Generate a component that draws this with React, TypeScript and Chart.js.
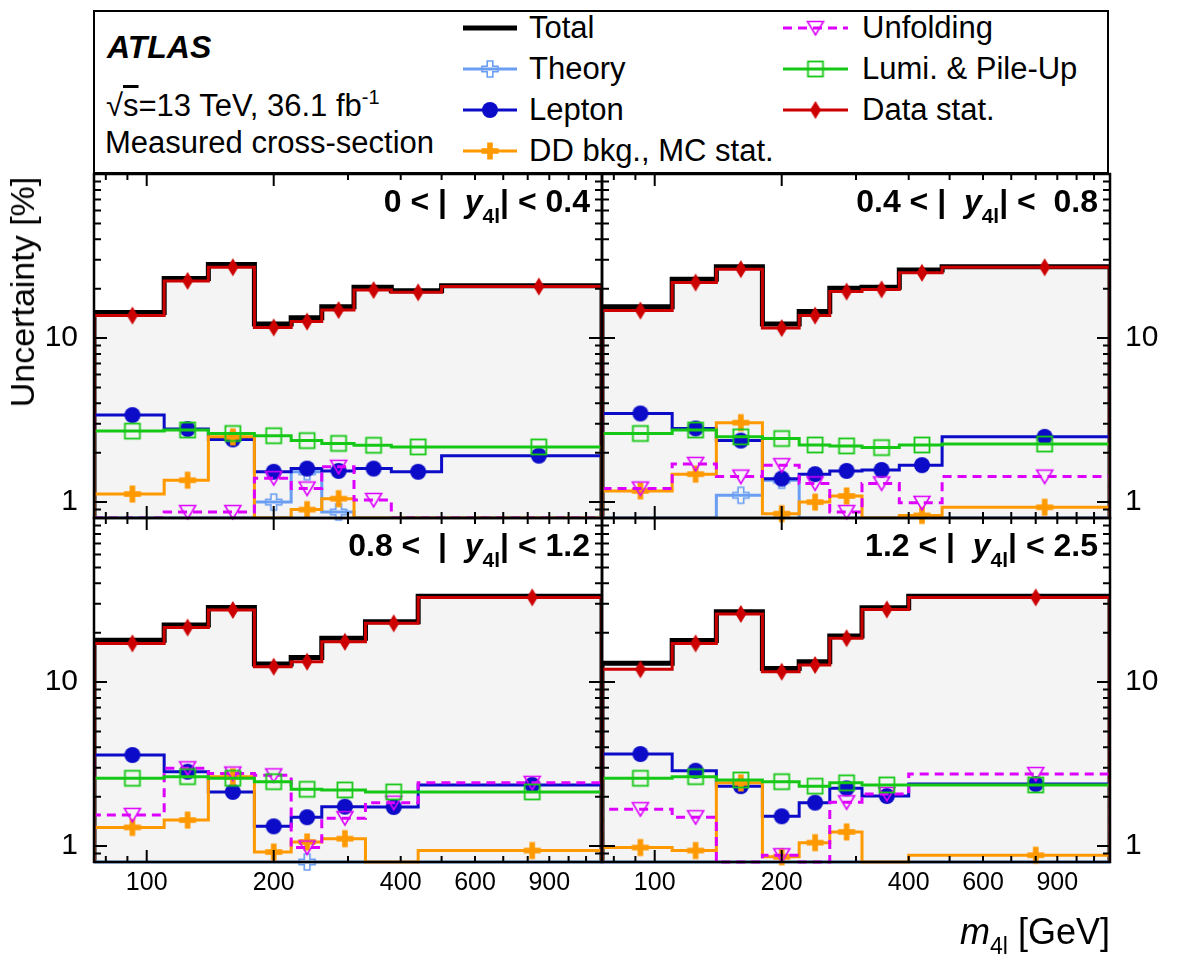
import React, { useEffect, useRef } from 'react';
import { Chart, registerables } from 'chart.js';

Chart.register(...registerables);

const PAGE_W = 1182;
const PAGE_H = 971;
const FONT = "'Liberation Sans', Arial, Helvetica, sans-serif";
const FILL = '#f4f4f4';

// axis ranges and ticks
const X_MIN = 75;
const X_MAX = 1200;
const Y_MIN = 0.8;
const Y_MAX = 100;
const X_TICK_LABELS = [100, 200, 400, 600, 900];
const Y_TICK_LABELS = [1, 10];
const X_MAJOR = [100, 200];
const X_MINOR = [80, 90, 300, 400, 500, 600, 700, 800, 900, 1000, 1100];
const Y_MAJOR = [1, 10];
const Y_MINOR = [0.9, 2, 3, 4, 5, 6, 7, 8, 9, 20, 30, 40, 50, 60, 70, 80, 90];

// ---- 0 < |y4l| < 0.4 ----
const edgesA = [75, 110, 140, 180, 220, 260, 310, 380, 500, 1200];
const totalA = [14.3, 23.1, 28.1, 12.2, 13.3, 15.5, 20.4, 19.4, 20.8];
const theoryA = [0.5, 0.5, 0.5, 1.0, 1.53, 0.87, 0.5, 0.5, 0.5];
const leptonA = [3.39, 2.79, 2.41, 1.53, 1.6, 1.55, 1.6, 1.53, 1.92];
const ddA = [1.12, 1.36, 2.5, 0.5, 0.9, 1.05, 0.5, 0.5, 0.5];
const unfoldA = [0.5, 0.87, 0.87, 1.4, 1.21, 1.64, 1.03, 0.5, 0.5];
const lumiA = [2.71, 2.75, 2.62, 2.54, 2.37, 2.28, 2.22, 2.17, 2.17];
const dataA = [13.7, 22.3, 27.0, 11.6, 12.6, 14.8, 19.6, 19.0, 20.6];

// ---- 0.4 < |y4l| < 0.8 ----
const edgesB = [75, 110, 140, 180, 220, 260, 310, 380, 480, 1200];
const totalB = [15.5, 22.8, 27.2, 12.2, 14.5, 20.1, 20.4, 26.0, 27.2];
const theoryB = [0.5, 0.5, 1.1, 1.36, 0.5, 0.5, 0.5, 0.5, 0.5];
const leptonB = [3.47, 2.81, 2.37, 1.39, 1.48, 1.55, 1.57, 1.68, 2.5];
const ddB = [1.17, 1.48, 3.05, 0.85, 1.0, 1.09, 0.5, 0.83, 0.93];
const unfoldB = [1.21, 1.71, 1.43, 1.68, 1.3, 0.87, 1.3, 0.99, 1.43];
const lumiB = [2.62, 2.75, 2.5, 2.44, 2.23, 2.2, 2.15, 2.23, 2.26];
const dataB = [14.7, 21.8, 26.3, 11.5, 13.7, 19.2, 19.8, 25.0, 27.0];

// ---- 0.8 < |y4l| < 1.2 ----
const edgesC = [75, 110, 140, 180, 220, 260, 330, 440, 1200];
const totalC = [18.0, 22.3, 28.5, 12.9, 14.1, 18.5, 23.3, 33.4];
const theoryC = [0.5, 0.5, 0.5, 0.5, 0.8, 0.5, 0.5, 0.5];
const leptonC = [3.59, 2.84, 2.14, 1.32, 1.5, 1.74, 1.73, 2.36];
const ddC = [1.3, 1.44, 2.65, 0.92, 1.06, 1.11, 0.5, 0.94];
const unfoldC = [1.55, 2.98, 2.77, 2.7, 0.98, 1.48, 1.84, 2.43];
const lumiC = [2.59, 2.65, 2.59, 2.47, 2.22, 2.2, 2.14, 2.14];
const dataC = [17.2, 21.5, 27.5, 12.4, 13.3, 17.6, 22.8, 32.8];

// ---- 1.2 < |y4l| < 2.5 ----
const edgesD = [75, 110, 140, 180, 220, 260, 310, 400, 1200];
const totalD = [13.0, 17.9, 26.8, 12.1, 13.3, 19.1, 28.4, 33.4];
const theoryD = [0.5, 0.5, 0.5, 0.5, 0.5, 0.5, 0.5, 0.5];
const leptonD = [3.64, 2.88, 2.32, 1.52, 1.84, 2.25, 2.02, 2.39];
const ddD = [0.98, 0.94, 2.43, 0.86, 1.05, 1.22, 0.5, 0.88];
const unfoldD = [1.68, 1.5, 0.5, 0.88, 0.5, 1.85, 2.08, 2.75];
const lumiD = [2.59, 2.65, 2.53, 2.47, 2.32, 2.43, 2.36, 2.36];
const dataD = [11.95, 17.2, 26.0, 11.56, 12.7, 18.5, 27.7, 32.8];

type SeriesKey = 'total' | 'theory' | 'lepton' | 'dd' | 'unfolding' | 'lumi' | 'data';

const SERIES: { key: SeriesKey; label: string; color: string; width: number; dash: number[]; marker: string | null }[] = [
  { key: 'total', label: 'Total', color: '#000000', width: 5, dash: [], marker: null },
  { key: 'theory', label: 'Theory', color: '#6a9ef2', width: 3, dash: [], marker: 'openCross' },
  { key: 'lepton', label: 'Lepton', color: '#0b0bc8', width: 3, dash: [], marker: 'circle' },
  { key: 'dd', label: 'DD bkg., MC stat.', color: '#ff9900', width: 3, dash: [], marker: 'fullCross' },
  { key: 'unfolding', label: 'Unfolding', color: '#de00ff', width: 3, dash: [9, 6], marker: 'openTriangleDown' },
  { key: 'lumi', label: 'Lumi. & Pile-Up', color: '#16c816', width: 3, dash: [], marker: 'openSquare' },
  { key: 'data', label: 'Data stat.', color: '#cc0000', width: 3, dash: [], marker: 'diamond' },
];

type Panel = {
  edges: number[];
  values: Record<SeriesKey, number[]>;
  pre: string;
  post: string;
  area: { left: number; right: number; top: number; bottom: number };
  showX: boolean;
  yPos: 'left' | 'right';
};

const PANELS: Panel[] = [
  {
    edges: edgesA,
    values: { total: totalA, theory: theoryA, lepton: leptonA, dd: ddA, unfolding: unfoldA, lumi: lumiA, data: dataA },
    pre: '0 < |  ', post: '| < 0.4',
    area: { left: 94, right: 602, top: 174, bottom: 518 }, showX: false, yPos: 'left',
  },
  {
    edges: edgesB,
    values: { total: totalB, theory: theoryB, lepton: leptonB, dd: ddB, unfolding: unfoldB, lumi: lumiB, data: dataB },
    pre: '0.4 < |  ', post: '| <  0.8',
    area: { left: 602, right: 1110, top: 174, bottom: 518 }, showX: false, yPos: 'right',
  },
  {
    edges: edgesC,
    values: { total: totalC, theory: theoryC, lepton: leptonC, dd: ddC, unfolding: unfoldC, lumi: lumiC, data: dataC },
    pre: '0.8 <  |  ', post: '| < 1.2',
    area: { left: 94, right: 602, top: 518, bottom: 862 }, showX: true, yPos: 'left',
  },
  {
    edges: edgesD,
    values: { total: totalD, theory: theoryD, lepton: leptonD, dd: ddD, unfolding: unfoldD, lumi: lumiD, data: dataD },
    pre: '1.2 < |  ', post: '| < 2.5',
    area: { left: 602, right: 1110, top: 518, bottom: 862 }, showX: true, yPos: 'right',
  },
];

function makeMarker(kind: string, color: string): HTMLCanvasElement {
  const S = 24;
  const c = document.createElement('canvas');
  c.width = S;
  c.height = S;
  const g = c.getContext('2d') as CanvasRenderingContext2D;
  const m = S / 2;
  g.fillStyle = color;
  g.strokeStyle = color;
  g.lineJoin = 'miter';
  if (kind === 'circle') {
    g.beginPath();
    g.arc(m, m, 8, 0, Math.PI * 2);
    g.fill();
  } else if (kind === 'diamond') {
    g.beginPath();
    g.moveTo(m, m - 9);
    g.lineTo(m + 5.5, m);
    g.lineTo(m, m + 9);
    g.lineTo(m - 5.5, m);
    g.closePath();
    g.fill();
  } else if (kind === 'openSquare') {
    g.lineWidth = 1.8;
    g.strokeRect(m - 7.5, m - 7.5, 15, 15);
  } else if (kind === 'openTriangleDown') {
    g.lineWidth = 1.6;
    g.beginPath();
    g.moveTo(m - 8, m - 6.5);
    g.lineTo(m + 8, m - 6.5);
    g.lineTo(m, m + 7);
    g.closePath();
    g.stroke();
  } else if (kind === 'fullCross') {
    const L = 8.5;
    const T = 2.8;
    g.fillRect(m - L, m - T, 2 * L, 2 * T);
    g.fillRect(m - T, m - L, 2 * T, 2 * L);
  } else if (kind === 'openCross') {
    const L = 8;
    const T = 2.8;
    g.lineWidth = 1.6;
    const pts = [[-T, -L], [T, -L], [T, -T], [L, -T], [L, T], [T, T], [T, L], [-T, L], [-T, T], [-L, T], [-L, -T], [-T, -T]];
    g.beginPath();
    pts.forEach(([px, py], i) => (i ? g.lineTo(m + px, m + py) : g.moveTo(m + px, m + py)));
    g.closePath();
    g.stroke();
  }
  return c;
}

const frameTicks = {
  id: 'frameTicks',
  afterDatasetsDraw(chart: any) {
    const { ctx, chartArea: a } = chart;
    const x = chart.scales.x;
    const y = chart.scales.y;
    ctx.save();
    ctx.strokeStyle = '#000';
    ctx.lineWidth = 2;
    ctx.beginPath();
    const xt = (v: number, len: number) => {
      const px = x.getPixelForValue(v);
      ctx.moveTo(px, a.bottom);
      ctx.lineTo(px, a.bottom - len);
      ctx.moveTo(px, a.top);
      ctx.lineTo(px, a.top + len);
    };
    const yt = (v: number, len: number) => {
      const py = y.getPixelForValue(v);
      ctx.moveTo(a.left, py);
      ctx.lineTo(a.left + len, py);
      ctx.moveTo(a.right, py);
      ctx.lineTo(a.right - len, py);
    };
    X_MAJOR.forEach((v) => xt(v, 12));
    X_MINOR.forEach((v) => xt(v, 6));
    Y_MAJOR.forEach((v) => yt(v, 13));
    Y_MINOR.forEach((v) => yt(v, 7));
    ctx.stroke();
    ctx.lineWidth = 2.5;
    ctx.strokeRect(a.left, a.top, a.right - a.left, a.bottom - a.top);
    ctx.restore();
  },
};

function buildConfig(p: Panel): any {
  const n = p.edges.length - 1;
  const centers = p.edges.slice(0, n).map((e, i) => (e + p.edges[i + 1]) / 2);
  const clampV = (v: number) => Math.min(Math.max(v, Y_MIN), Y_MAX);
  const datasets: any[] = [];
  SERIES.forEach((s) => {
    const vals = p.values[s.key];
    const line: { x: number; y: number }[] = [{ x: p.edges[0], y: Y_MIN }];
    vals.forEach((v, i) => line.push({ x: p.edges[i], y: clampV(v) }));
    line.push({ x: p.edges[n], y: clampV(vals[n - 1]) });
    line.push({ x: p.edges[n], y: Y_MIN });
    datasets.push({
      type: 'line',
      data: line,
      borderColor: s.color,
      borderWidth: s.width,
      borderDash: s.dash,
      borderJoinStyle: 'miter',
      borderCapStyle: 'butt',
      stepped: true,
      pointRadius: 0,
      pointHoverRadius: 0,
      fill: s.key === 'total' ? 'start' : false,
      backgroundColor: FILL,
      clip: p.showX ? { left: 0, right: 0, top: 0, bottom: 2 } : 0,
    });
    if (s.marker) {
      const img = makeMarker(s.marker, s.color);
      const pts = centers
        .map((c, i) => ({ x: c, y: vals[i] }))
        .filter((pt) => pt.y >= Y_MIN && pt.y <= Y_MAX);
      datasets.push({
        type: 'line',
        data: pts,
        showLine: false,
        pointStyle: img,
        pointRadius: 8,
        pointHoverRadius: 8,
        borderColor: s.color,
        backgroundColor: s.color,
        clip: false,
      });
    }
  });
  const N = datasets.length;
  datasets.forEach((d, i) => {
    d.order = N - i;
  });

  const isLeft = p.yPos === 'left';
  return {
    type: 'line',
    data: { datasets },
    plugins: [frameTicks],
    options: {
      animation: false,
      responsive: false,
      devicePixelRatio: 1,
      events: [],
      layout: {
        padding: {
          left: isLeft ? 0 : p.area.left,
          right: isLeft ? PAGE_W - p.area.right : 0,
          top: p.area.top,
          bottom: p.showX ? 0 : PAGE_H - p.area.bottom,
        },
      },
      plugins: { legend: { display: false }, tooltip: { enabled: false } },
      scales: {
        x: {
          type: 'logarithmic',
          min: X_MIN,
          max: X_MAX,
          display: p.showX,
          position: 'bottom',
          grid: { display: false, drawTicks: false },
          border: { display: false },
          afterBuildTicks: (s: any) => {
            s.ticks = X_TICK_LABELS.map((v) => ({ value: v }));
          },
          afterFit: (s: any) => {
            s.height = p.showX ? PAGE_H - p.area.bottom : 0;
          },
          ticks: {
            autoSkip: false,
            maxRotation: 0,
            minRotation: 0,
            padding: 6,
            color: '#000',
            font: { family: FONT, size: 25 },
            callback: (v: any) => String(v),
          },
        },
        y: {
          type: 'logarithmic',
          min: Y_MIN,
          max: Y_MAX,
          position: p.yPos,
          grid: { display: false, drawTicks: false },
          border: { display: false },
          afterBuildTicks: (s: any) => {
            s.ticks = Y_TICK_LABELS.map((v) => ({ value: v }));
          },
          afterFit: (s: any) => {
            s.width = isLeft ? p.area.left : PAGE_W - p.area.right;
          },
          ticks: {
            autoSkip: false,
            padding: isLeft ? 16 : 15,
            color: '#000',
            font: { family: FONT, size: 30 },
            callback: (v: any) => String(v),
          },
        },
      },
    },
  };
}

function PanelChart({ panel }: { panel: Panel }) {
  const ref = useRef<HTMLCanvasElement>(null);
  useEffect(() => {
    const chart = new Chart(ref.current as HTMLCanvasElement, buildConfig(panel));
    return () => chart.destroy();
  }, [panel]);
  return (
    <canvas
      ref={ref}
      width={PAGE_W}
      height={PAGE_H}
      style={{ position: 'absolute', left: 0, top: 0, width: PAGE_W, height: PAGE_H, pointerEvents: 'none' }}
    />
  );
}

// legend layout
const LEG_COL1 = { x0: 463, x1: 517, text: 529 };
const LEG_COL2 = { x0: 783, x1: 848, text: 862 };
const LEG_ROWS = [28, 69, 110, 151];
const LEGEND_ITEMS: { key: SeriesKey; col: number; row: number }[] = [
  { key: 'total', col: 1, row: 0 },
  { key: 'theory', col: 1, row: 1 },
  { key: 'lepton', col: 1, row: 2 },
  { key: 'dd', col: 1, row: 3 },
  { key: 'unfolding', col: 2, row: 0 },
  { key: 'lumi', col: 2, row: 1 },
  { key: 'data', col: 2, row: 2 },
];

function LegendSymbols() {
  const ref = useRef<HTMLCanvasElement>(null);
  useEffect(() => {
    const g = (ref.current as HTMLCanvasElement).getContext('2d') as CanvasRenderingContext2D;
    g.clearRect(0, 0, PAGE_W, 180);
    LEGEND_ITEMS.forEach((it) => {
      const s = SERIES.find((q) => q.key === it.key)!;
      const col = it.col === 1 ? LEG_COL1 : LEG_COL2;
      const y = LEG_ROWS[it.row];
      g.save();
      g.strokeStyle = s.color;
      g.lineWidth = s.width;
      g.setLineDash(s.dash);
      g.beginPath();
      g.moveTo(col.x0, y);
      g.lineTo(col.x1, y);
      g.stroke();
      g.restore();
      if (s.marker) {
        const img = makeMarker(s.marker, s.color);
        g.drawImage(img, (col.x0 + col.x1) / 2 - img.width / 2, y - img.height / 2);
      }
    });
  }, []);
  return (
    <canvas
      ref={ref}
      width={PAGE_W}
      height={180}
      style={{ position: 'absolute', left: 0, top: 0, width: PAGE_W, height: 180, pointerEvents: 'none' }}
    />
  );
}

const txt = (cx: number, cy: number, size: number, extra: React.CSSProperties = {}): React.CSSProperties => ({
  position: 'absolute',
  left: cx,
  top: cy - size * 0.6,
  fontFamily: FONT,
  fontSize: size,
  lineHeight: `${size * 1.2}px`,
  whiteSpace: 'pre',
  color: '#000',
  ...extra,
});

export default function App() {
  return (
    <div
      style={{
        position: 'absolute',
        left: 0,
        top: 0,
        width: PAGE_W,
        height: PAGE_H,
        background: '#fff',
        overflow: 'hidden',
        fontFamily: FONT,
      }}
    >
      {/* legend box */}
      <div
        style={{
          position: 'absolute',
          left: 94,
          top: 10,
          width: 1110 - 94,
          height: 174 - 10,
          border: '2px solid #000',
          boxSizing: 'border-box',
          marginLeft: -1,
        }}
      />
      <div style={txt(107, 47, 32, { fontWeight: 'bold', fontStyle: 'italic' })}>ATLAS</div>
      <div style={txt(106, 106, 31)}>
        √<span style={{ textDecoration: 'overline' }}>s</span>=13 TeV, 36.1 fb
        <span style={{ fontSize: 20, position: 'relative', top: -12 }}>-1</span>
      </div>
      <div style={txt(105, 143, 31)}>Measured cross-section</div>
      {LEGEND_ITEMS.map((it) => {
        const s = SERIES.find((q) => q.key === it.key)!;
        const col = it.col === 1 ? LEG_COL1 : LEG_COL2;
        return (
          <div key={it.key} style={txt(col.text, LEG_ROWS[it.row], 31)}>
            {s.label}
          </div>
        );
      })}
      <LegendSymbols />

      {PANELS.map((p, i) => (
        <PanelChart key={i} panel={p} />
      ))}

      {PANELS.map((p, i) => (
        <div
          key={'lab' + i}
          style={{
            position: 'absolute',
            right: PAGE_W - (p.area.right - 12),
            top: p.area.top + 27 - 19,
            fontFamily: FONT,
            fontSize: 32,
            fontWeight: 'bold',
            lineHeight: '38px',
            whiteSpace: 'pre',
            color: '#000',
          }}
        >
          {p.pre}
          <i>y</i>
          <span style={{ fontSize: 21, position: 'relative', top: 11 }}>4l</span>
          {p.post}
        </div>
      ))}

      {/* y-axis title */}
      <div
        style={{
          position: 'absolute',
          left: 22,
          top: 292,
          transform: 'translate(-50%, -50%) rotate(-90deg)',
          fontFamily: FONT,
          fontSize: 34,
          lineHeight: '40px',
          whiteSpace: 'pre',
          color: '#000',
        }}
      >
        Uncertainty [%]
      </div>

      {/* x-axis title */}
      <div
        style={{
          position: 'absolute',
          right: PAGE_W - 1110,
          top: 932 - 22,
          fontFamily: FONT,
          fontSize: 36,
          lineHeight: '44px',
          whiteSpace: 'pre',
          color: '#000',
        }}
      >
        <i>m</i>
        <span style={{ fontSize: 23, position: 'relative', top: 10 }}>4l</span> [GeV]
      </div>
    </div>
  );
}
